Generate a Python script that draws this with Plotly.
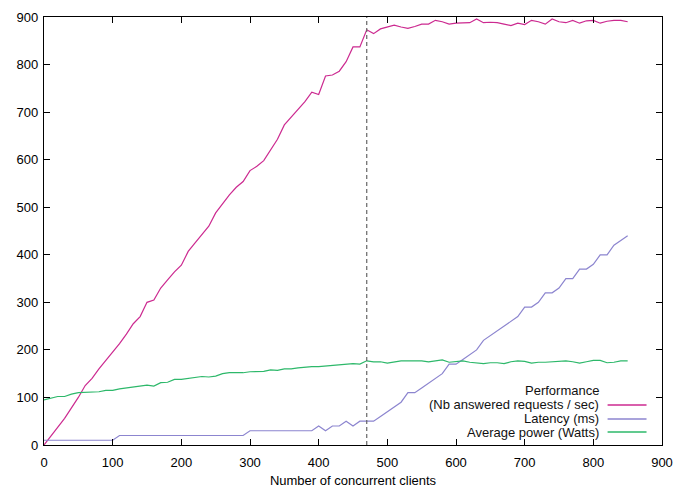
import plotly.graph_objects as go

clients = [0, 10, 20, 30, 40, 50, 60, 70, 80, 90,
           100, 110, 120, 130, 140, 150, 160, 170, 180, 190,
           200, 210, 220, 230, 240, 250, 260, 270, 280, 290,
           300, 310, 320, 330, 340, 350, 360, 370, 380, 390,
           400, 410, 420, 430, 440, 450, 460, 470, 480, 490,
           500, 510, 520, 530, 540, 550, 560, 570, 580, 590,
           600, 610, 620, 630, 640, 650, 660, 670, 680, 690,
           700, 710, 720, 730, 740, 750, 760, 770, 780, 790,
           800, 810, 820, 830, 840, 850]

performance = [0, 18, 37, 56, 78, 100, 125, 140, 160, 177,
               195, 213, 233, 255, 270, 300, 305, 330, 347, 364,
               378, 407, 425, 442, 460, 488, 508, 526, 542, 554,
               577, 586, 598, 622, 643, 673, 689, 706, 722, 742,
               737, 776, 778, 786, 806, 837, 837, 873, 865, 875,
               879, 883, 879, 876, 880, 885, 885, 893, 890, 885,
               887, 887, 888, 896, 888, 889, 888, 885, 882, 887,
               884, 893, 890, 885, 896, 890, 888, 893, 887, 892,
               893, 887, 891, 893, 893, 890]

latency = [10, 10, 10, 10, 10, 10, 10, 10, 10, 10,
           10, 20, 20, 20, 20, 20, 20, 20, 20, 20,
           20, 20, 20, 20, 20, 20, 20, 20, 20, 20,
           30, 30, 30, 30, 30, 30, 30, 30, 30, 30,
           40, 30, 40, 40, 50, 40, 50, 50, 50, 60,
           70, 80, 90, 110, 110, 120, 130, 140, 150, 170,
           170, 180, 190, 200, 220, 230, 240, 250, 260, 270,
           290, 290, 300, 320, 320, 330, 350, 350, 370, 370,
           380, 400, 400, 420, 430, 440]

power = [95, 98, 102, 102, 107, 110, 111, 112, 112, 115,
         115, 118, 120, 121, 124, 126, 124, 131, 132, 138,
         138, 140, 143, 144, 143, 145, 150, 152, 152, 152,
         154, 155, 155, 158, 157, 160, 160, 162, 164, 165,
         165, 166, 168, 169, 170, 171, 170, 177, 175, 175,
         172, 175, 177, 177, 177, 177, 175, 177, 179, 174,
         175, 177, 174, 173, 171, 173, 173, 171, 175, 177,
         176, 172, 174, 174, 175, 177, 177, 175, 172, 175,
         178, 178, 173, 174, 177, 177]

saturation_x = 470

series_names = ["Performance<br>(Nb answered requests / sec)", "Latency (ms)", "Average power (Watts)"]
legend_lines = ["Performance", "(Nb answered requests / sec)", "Latency (ms)", "Average power (Watts)"]
colors = ["#cc2a90", "#8c85cf", "#2db86a"]

x_ticks = [0, 100, 200, 300, 400, 500, 600, 700, 800, 900]
y_ticks = [0, 100, 200, 300, 400, 500, 600, 700, 800, 900]

FONT = "Liberation Sans, Arial, sans-serif"
FS = 13

fig = go.Figure()
for name, ys, col in zip(series_names, [performance, latency, power], colors):
    fig.add_trace(go.Scatter(x=clients, y=ys, mode="lines", name=name,
                             line=dict(color=col, width=1.2), showlegend=False))

fig.add_shape(type="line", x0=saturation_x, x1=saturation_x, y0=0, y1=900,
              xref="x", yref="y", line=dict(color="#666666", width=1.2, dash="4px,3px"))

W, H = 676, 488
L, R, T, B = 43.5, 13.5, 16.5, 43
pw, ph = W - L - R, H - T - B


def px_x(v):
    return (v - L) / pw


def px_y(v):
    return 1 - (v - T) / ph


# custom legend (text to the left of sample line, gnuplot style)
leg_y = [390, 404, 418, 432]
for i, txt in enumerate(legend_lines):
    fig.add_annotation(x=px_x(601), y=px_y(leg_y[i]), xref="paper", yref="paper", text=txt,
                       showarrow=False, xanchor="right", yanchor="middle",
                       font=dict(family=FONT, size=FS, color="#111111"))
for col, yy in zip(colors, [405, 419, 432]):
    fig.add_shape(type="line", x0=px_x(608), x1=px_x(647), y0=px_y(yy), y1=px_y(yy),
                  xref="paper", yref="paper", line=dict(color=col, width=1.5))

axis_common = dict(showgrid=False, zeroline=False, showline=True, linecolor="black",
                   linewidth=1.3, mirror="allticks", ticks="inside", ticklen=6,
                   tickcolor="black", tickwidth=1, automargin=False,
                   tickfont=dict(family=FONT, size=FS, color="black"))

fig.update_layout(
    template="none",
    width=W, height=H,
    margin=dict(l=L, r=R, t=T, b=B, pad=0),
    paper_bgcolor="white", plot_bgcolor="white",
    font=dict(family=FONT, size=FS, color="black"),
    xaxis=dict(range=[0, 900], tickvals=x_ticks, ticklabelstandoff=5,
               title=dict(text="Number of concurrent clients", standoff=9,
                          font=dict(family=FONT, size=FS)), **axis_common),
    yaxis=dict(range=[0, 900], tickvals=y_ticks, ticklabelstandoff=2, **axis_common),
)

fig.write_html(
    "out.html",
    config={"displayModeBar": False},
    post_script=("document.documentElement.style.margin='0';"
                 "document.documentElement.style.overflow='hidden';"
                 "document.body.style.margin='0';"
                 "document.body.style.overflow='hidden';"),
)
